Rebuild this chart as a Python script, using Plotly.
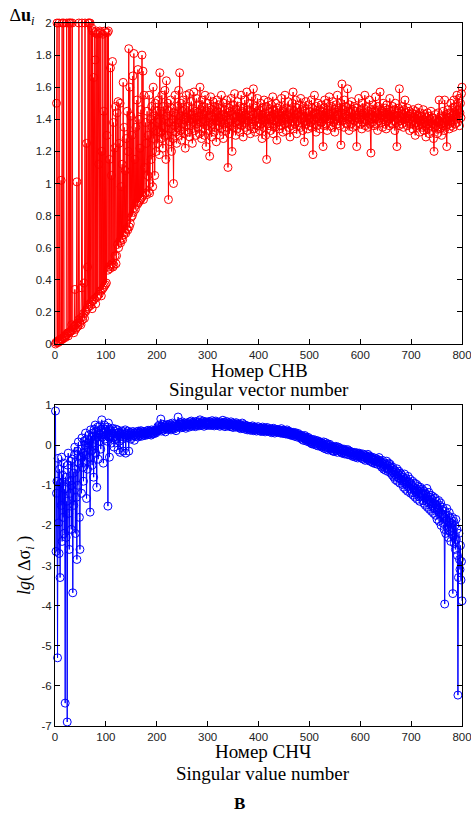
import plotly.graph_objects as go

# ---------------- data ----------------
idx = list(range(1, 801))

du = [
 0.00,0.01,1.50,2.00,0.01,0.02,0.01,2.00,0.02,0.03,0.02,1.02,0.03,2.00,0.03,0.04,2.00,0.04,0.05,0.04,
 0.05,0.06,2.00,0.06,0.07,0.05,2.00,0.07,2.00,0.08,2.00,0.08,0.12,2.00,0.09,0.10,0.07,0.11,0.34,0.09,
 0.12,0.10,1.01,0.13,0.11,0.15,2.00,0.14,0.13,0.16,0.12,0.35,2.00,0.15,0.17,0.19,0.38,0.16,2.00,0.20,
 0.21,1.25,0.22,0.48,2.00,0.23,2.00,0.25,2.00,0.24,0.26,1.97,0.22,1.95,0.27,1.66,0.28,1.94,1.77,0.25,
 1.95,0.29,1.93,0.30,1.94,1.12,0.31,1.95,0.33,1.94,0.30,1.20,0.34,1.93,0.35,1.45,0.36,1.95,0.37,1.94,
 0.38,1.30,1.94,0.46,1.95,0.48,1.15,0.47,1.72,0.49,1.05,0.50,1.76,0.48,1.38,0.49,1.22,0.55,1.48,0.50,
 0.55,1.44,0.62,1.51,0.60,1.25,0.64,1.50,0.63,0.98,0.66,1.12,0.65,1.63,0.68,1.35,0.70,1.08,0.69,1.28,
 0.72,1.45,0.71,1.20,1.84,0.73,1.60,0.75,1.42,0.79,1.30,0.80,1.67,0.82,1.81,0.85,1.15,0.84,1.35,0.88,
 1.52,0.87,1.71,0.88,1.40,0.89,1.22,0.90,1.46,0.91,1.80,0.92,1.70,0.90,1.55,1.10,0.94,1.38,1.25,0.93,
 1.45,1.05,1.30,0.95,1.55,0.94,1.00,1.40,1.15,1.48,1.35,0.98,1.60,1.28,1.42,1.05,1.50,1.33,1.20,1.45,
 1.38,1.25,1.52,1.40,1.18,1.69,1.32,1.45,1.28,1.55,1.36,1.22,1.48,1.40,1.30,1.58,1.35,1.15,1.64,1.42,
 1.30,1.50,0.90,1.38,1.45,1.26,1.52,1.34,1.20,1.47,1.40,1.28,1.00,1.44,1.36,1.55,1.32,1.42,1.25,1.48,
 1.38,1.35,1.58,1.30,1.69,1.42,1.33,1.50,1.27,1.45,1.37,1.52,1.40,1.31,1.46,1.22,1.41,1.55,1.36,1.44,
 1.32,1.48,1.39,1.56,1.29,1.43,1.36,1.51,1.40,1.25,1.47,1.38,1.57,1.33,1.45,1.41,1.30,1.53,1.37,1.44,
 1.35,1.49,1.42,1.31,1.60,1.38,1.46,1.28,1.52,1.40,1.34,1.48,1.43,1.30,1.55,1.39,1.23,1.45,1.36,1.50,
 1.41,1.33,1.47,1.17,1.38,1.54,1.42,1.29,1.46,1.37,1.51,1.40,1.32,1.48,1.35,1.44,1.26,1.52,1.39,1.45,
 1.36,1.49,1.41,1.30,1.47,1.38,1.55,1.34,1.43,1.40,1.28,1.50,1.37,1.46,1.33,1.42,1.52,1.35,1.44,1.10,
 1.38,1.47,1.31,1.45,1.40,1.53,1.36,1.20,1.43,1.49,1.35,1.41,1.56,1.38,1.30,1.46,1.42,1.34,1.51,1.39,
 1.44,1.37,1.48,1.32,1.41,1.55,1.36,1.45,1.40,1.29,1.47,1.38,1.52,1.35,1.43,1.41,1.57,1.33,1.46,1.39,
 1.42,1.36,1.50,1.31,1.45,1.40,1.54,1.37,1.43,1.59,1.34,1.47,1.39,1.32,1.48,1.41,1.36,1.53,1.44,1.38,
 1.40,1.46,1.33,1.50,1.37,1.43,1.28,1.47,1.41,1.35,1.52,1.39,1.44,1.30,1.48,1.15,1.42,1.37,1.51,1.40,
 1.36,1.45,1.40,1.33,1.49,1.42,1.37,1.54,1.31,1.46,1.39,1.43,1.35,1.50,1.41,1.27,1.47,1.38,1.44,1.40,
 1.34,1.48,1.42,1.36,1.53,1.39,1.45,1.32,1.46,1.41,1.37,1.55,1.40,1.33,1.47,1.43,1.38,1.51,1.35,1.44,
 1.40,1.29,1.46,1.42,1.36,1.50,1.39,1.57,1.34,1.45,1.41,1.37,1.52,1.43,1.31,1.47,1.39,1.44,1.36,1.49,
 1.42,1.38,1.53,1.35,1.46,1.40,1.33,1.48,1.41,1.26,1.45,1.39,1.51,1.37,1.44,1.42,1.34,1.49,1.40,1.36,
 1.45,1.41,1.38,1.52,1.35,1.47,1.18,1.43,1.40,1.55,1.37,1.44,1.32,1.48,1.41,1.36,1.50,1.43,1.39,1.46,
 1.34,1.42,1.49,1.38,1.45,1.40,1.23,1.47,1.36,1.52,1.41,1.44,1.37,1.50,1.33,1.46,1.42,1.39,1.54,1.40,
 1.43,1.36,1.48,1.41,1.35,1.51,1.44,1.38,1.46,1.32,1.42,1.49,1.40,1.37,1.55,1.43,1.39,1.47,1.41,1.36,
 1.50,1.24,1.44,1.62,1.39,1.46,1.41,1.35,1.52,1.43,1.38,1.48,1.42,1.37,1.59,1.45,1.40,1.33,1.49,1.41,
 1.44,1.37,1.51,1.40,1.46,1.35,1.42,1.48,1.39,1.45,1.41,1.36,1.23,1.47,1.43,1.38,1.53,1.40,1.44,1.37,
 1.46,1.41,1.34,1.50,1.43,1.38,1.47,1.40,1.55,1.36,1.44,1.42,1.39,1.48,1.35,1.45,1.41,1.52,1.37,1.43,
 1.19,1.46,1.40,1.38,1.49,1.42,1.36,1.45,1.41,1.54,1.37,1.44,1.40,1.33,1.48,1.43,1.39,1.46,1.57,1.41,
 1.38,1.45,1.42,1.35,1.50,1.40,1.44,1.37,1.47,1.41,1.34,1.49,1.43,1.39,1.46,1.40,1.36,1.53,1.42,1.38,
 1.45,1.41,1.37,1.48,1.43,1.39,1.46,1.33,1.50,1.42,1.38,1.23,1.44,1.40,1.47,1.36,1.59,1.42,1.39,1.45,
 1.41,1.37,1.48,1.43,1.35,1.46,1.40,1.52,1.38,1.44,1.41,1.36,1.47,1.42,1.39,1.45,1.33,1.40,1.43,1.37,
 1.44,1.39,1.34,1.46,1.41,1.37,1.43,1.30,1.45,1.38,1.42,1.35,1.40,1.47,1.36,1.41,1.32,1.44,1.39,1.37,
 1.42,1.35,1.40,1.46,1.33,1.38,1.43,1.36,1.29,1.41,1.37,1.44,1.34,1.39,1.42,1.31,1.40,1.36,1.45,1.38,
 1.33,1.41,1.37,1.28,1.20,1.39,1.35,1.43,1.36,1.40,1.31,1.38,1.44,1.35,1.52,1.39,1.34,1.42,1.37,1.30,
 1.41,1.36,1.45,1.38,1.33,1.52,1.40,1.35,1.43,1.23,1.39,1.46,1.37,1.41,1.34,1.44,1.38,1.50,1.36,1.42,
 1.39,1.47,1.35,1.52,1.41,1.37,1.48,1.43,1.40,1.55,1.38,1.46,1.42,1.53,1.36,1.44,1.50,1.41,1.56,1.60,
]

lg_ds = [
 0.85,-2.65,-1.20,-0.90,-5.30,-0.33,-1.94,-2.70,-0.60,-3.30,-0.95,-1.50,-0.30,-2.40,-0.75,-1.80,-0.45,-2.20,-1.10,-6.43,
 -0.80,-2.30,-1.40,-6.90,-0.50,-0.20,-1.70,-2.60,-0.90,-1.20,-0.40,-2.10,-1.00,-0.35,-3.68,-0.70,-1.50,-0.25,-0.05,-2.20,
 -0.60,-1.30,-2.85,-0.15,-1.00,0.08,-0.45,-1.80,-2.60,-0.30,-0.10,-1.20,0.18,-0.55,-0.20,-0.90,0.10,-0.40,0.00,0.30,
 -0.25,-1.33,0.15,-0.60,0.05,0.25,-0.30,0.10,-1.67,0.38,-0.15,0.20,-0.50,0.30,0.05,-0.80,0.40,0.15,0.50,-0.20,
 0.35,-1.05,0.20,0.45,-0.35,0.30,0.10,0.48,0.25,-0.10,0.40,0.63,0.20,0.35,-0.45,0.30,0.50,0.15,0.40,0.25,
 0.35,0.10,0.45,-1.52,0.55,0.20,-0.30,0.40,0.25,0.35,0.05,0.30,0.42,0.18,0.28,-0.05,0.35,0.22,0.40,0.15,
 0.30,0.20,0.38,-0.12,0.25,0.32,0.10,-0.18,0.30,0.22,0.35,0.15,0.28,-0.15,0.33,0.20,0.26,0.38,-0.20,0.24,
 0.30,0.18,0.35,0.25,-0.15,0.28,0.22,0.32,0.15,0.30,0.26,0.20,0.34,0.24,0.29,0.12,0.31,0.27,0.22,0.33,
 0.25,0.30,0.20,0.35,0.28,0.23,0.32,0.26,0.36,0.22,0.30,0.27,0.34,0.25,0.31,0.29,0.24,0.33,0.28,0.35,
 0.30,0.26,0.37,0.29,0.33,0.27,0.35,0.31,0.25,0.38,0.32,0.28,0.36,0.30,0.34,0.29,0.37,0.33,0.31,0.36,
 0.40,0.46,0.36,0.44,0.50,0.38,0.43,0.65,0.35,0.47,0.41,0.52,0.37,0.45,0.40,0.49,0.33,0.46,0.42,0.51,
 0.44,0.39,0.50,0.46,0.41,0.53,0.45,0.38,0.49,0.43,0.55,0.42,0.47,0.40,0.51,0.44,0.48,0.36,0.52,0.46,
 0.49,0.70,0.45,0.53,0.47,0.56,0.43,0.51,0.48,0.58,0.44,0.52,0.50,0.46,0.55,0.49,0.42,0.54,0.51,0.47,
 0.56,0.50,0.53,0.45,0.58,0.52,0.49,0.60,0.47,0.54,0.51,0.57,0.48,0.55,0.52,0.46,0.59,0.53,0.50,0.56,
 0.51,0.58,0.48,0.54,0.63,0.52,0.56,0.49,0.55,0.51,0.60,0.53,0.47,0.57,0.54,0.50,0.58,0.52,0.55,0.49,
 0.56,0.52,0.59,0.50,0.54,0.57,0.49,0.55,0.61,0.51,0.53,0.58,0.48,0.56,0.52,0.60,0.50,0.55,0.53,0.57,
 0.50,0.56,0.53,0.47,0.58,0.51,0.55,0.49,0.54,0.62,0.50,0.57,0.52,0.46,0.55,0.53,0.59,0.48,0.54,0.51,
 0.56,0.49,0.53,0.46,0.52,0.58,0.47,0.51,0.55,0.44,0.50,0.54,0.48,0.52,0.45,0.56,0.49,0.53,0.47,0.51,
 0.48,0.43,0.52,0.46,0.41,0.50,0.45,0.55,0.42,0.47,0.44,0.51,0.40,0.46,0.49,0.43,0.48,0.38,0.45,0.42,
 0.47,0.40,0.44,0.37,0.46,0.42,0.39,0.48,0.41,0.36,0.44,0.40,0.45,0.38,0.43,0.35,0.42,0.39,0.46,0.37,
 0.41,0.36,0.43,0.39,0.34,0.42,0.38,0.45,0.35,0.40,0.37,0.43,0.33,0.39,0.41,0.36,0.44,0.38,0.35,0.40,
 0.37,0.33,0.41,0.36,0.39,0.31,0.38,0.35,0.42,0.34,0.37,0.30,0.40,0.36,0.33,0.39,0.35,0.38,0.32,0.36,
 0.34,0.38,0.30,0.35,0.41,0.31,0.36,0.29,0.33,0.37,0.30,0.34,0.28,0.35,0.32,0.38,0.27,0.33,0.30,0.34,
 0.31,0.26,0.33,0.28,0.24,0.30,0.27,0.32,0.25,0.29,0.22,0.28,0.31,0.24,0.27,0.20,0.26,0.29,0.23,0.25,
 0.22,0.18,0.25,0.20,0.15,0.23,0.19,0.12,0.21,0.17,0.24,0.14,0.18,0.10,0.20,0.15,0.12,0.19,0.08,0.14,
 0.12,0.06,0.15,0.09,0.03,0.11,0.07,0.14,0.02,0.10,0.05,0.12,0.00,0.08,0.04,0.11,-0.02,0.06,0.09,0.01,
 0.05,-0.03,0.07,0.01,-0.05,0.04,-0.02,0.08,-0.08,0.02,-0.04,0.06,-0.10,0.00,-0.06,0.03,-0.12,-0.01,-0.07,0.02,
 -0.05,-0.10,-0.02,-0.13,-0.07,-0.15,-0.04,-0.09,-0.16,-0.06,-0.11,-0.03,-0.14,-0.08,-0.18,-0.10,-0.05,-0.12,-0.07,-0.15,
 -0.11,-0.17,-0.09,-0.20,-0.14,-0.12,-0.19,-0.10,-0.22,-0.16,-0.13,-0.21,-0.15,-0.18,-0.11,-0.24,-0.17,-0.14,-0.20,-0.16,
 -0.19,-0.25,-0.17,-0.23,-0.28,-0.20,-0.26,-0.18,-0.24,-0.30,-0.21,-0.27,-0.19,-0.25,-0.32,-0.22,-0.28,-0.20,-0.26,-0.23,
 -0.30,-0.25,-0.33,-0.27,-0.22,-0.35,-0.29,-0.24,-0.31,-0.38,-0.26,-0.32,-0.28,-0.36,-0.23,-0.30,-0.34,-0.27,-0.40,-0.29,
 -0.33,-0.41,-0.30,-0.37,-0.44,-0.35,-0.39,-0.32,-0.46,-0.36,-0.42,-0.34,-0.40,-0.48,-0.37,-0.43,-0.31,-0.45,-0.39,-0.50,
 -0.42,-0.55,-0.46,-0.38,-0.52,-0.60,-0.44,-0.56,-0.49,-0.63,-0.47,-0.40,-0.58,-0.51,-0.66,-0.45,-0.61,-0.53,-0.48,-0.70,
 -0.57,-0.64,-0.75,-0.55,-0.68,-0.80,-0.62,-0.73,-0.86,-0.66,-0.78,-0.59,-0.90,-0.71,-0.82,-0.65,-0.76,-0.95,-0.70,-0.84,
 -0.74,-0.88,-0.98,-0.80,-1.05,-0.86,-0.72,-0.95,-1.10,-0.83,-0.99,-0.90,-1.15,-0.78,-1.02,-0.92,-1.08,-0.85,-1.20,-0.96,
 -1.00,-1.18,-0.90,-1.25,-1.06,-1.12,-0.95,-1.30,-1.08,-1.20,-0.98,-1.35,-1.14,-1.03,-1.28,-1.10,-1.40,-1.05,-1.22,-1.15,
 -1.25,-1.10,-1.38,-1.20,-1.45,-1.15,-1.32,-1.50,-1.22,-1.40,-1.08,-1.55,-1.28,-1.36,-1.18,-1.60,-1.30,-1.42,-1.25,-1.65,
 -1.35,-1.52,-1.28,-1.70,-1.45,-1.58,-1.32,-1.75,-1.48,-1.40,-1.85,-1.55,-1.62,-1.38,-1.90,-1.50,-1.68,-1.44,-2.00,-1.60,
 -1.72,-1.55,-1.95,-1.80,-2.10,-3.96,-1.65,-2.20,-1.85,-1.58,-2.05,-1.75,-2.30,-1.90,-1.68,-2.15,-1.82,-2.40,-1.95,-2.05,
 -1.80,-3.70,-2.25,-1.90,-2.45,-2.00,-2.60,-1.85,-2.35,-2.10,-2.75,-6.23,-3.30,-2.20,-2.85,-3.10,-2.50,-3.36,-2.90,-3.88,
]

if len(du) != 800 or len(lg_ds) != 800:
    raise ValueError(f"lengths {len(du)} {len(lg_ds)}")

x_ticks = [0, 100, 200, 300, 400, 500, 600, 700, 800]
x_ticklabels = ["0", "100", "200", "300", "400", "500", "600", "700", "800"]
top_yticks = [0, 0.2, 0.4, 0.6, 0.8, 1, 1.2, 1.4, 1.6, 1.8, 2]
top_yticklabels = ["0", "0.2", "0.4", "0.6", "0.8", "1", "1.2", "1.4", "1.6", "1.8", "2"]
bot_yticks = [-7, -6, -5, -4, -3, -2, -1, 0, 1]
bot_yticklabels = ["-7", "-6", "-5", "-4", "-3", "-2", "-1", "0", "1"]

# ---------------- figure ----------------
W, H = 471, 814

def fx(px):
    return px / W

def fy(py):
    return 1 - py / H

fig = go.Figure()

fig.add_trace(go.Scatter(
    x=idx, y=du, mode="lines+markers", xaxis="x", yaxis="y",
    line=dict(color="#ff0000", width=1),
    marker=dict(symbol="circle-open", size=8, color="#ff0000", line=dict(width=1)),
    cliponaxis=False, showlegend=False, hoverinfo="skip"))

fig.add_trace(go.Scatter(
    x=idx, y=lg_ds, mode="lines+markers", xaxis="x2", yaxis="y2",
    line=dict(color="#0000ff", width=1),
    marker=dict(symbol="circle-open", size=8, color="#0000ff", line=dict(width=1)),
    cliponaxis=False, showlegend=False, hoverinfo="skip"))

tickfont = dict(family="Liberation Sans, Arial, sans-serif", size=11.5, color="#222222")
xdom = [fx(55), fx(462)]

def axis_common():
    return dict(showline=True, linecolor="#000000", linewidth=1, mirror="ticks",
                ticks="inside", ticklen=5, tickcolor="#000000", tickwidth=1,
                showgrid=False, zeroline=False, tickfont=tickfont, fixedrange=True,
                automargin=False, ticklabeloverflow="allow")

fig.update_layout(
    width=W, height=H, autosize=False,
    margin=dict(l=0, r=0, t=0, b=0, pad=0),
    paper_bgcolor="white", plot_bgcolor="white",
    xaxis=dict(domain=xdom, range=[0, 800], tickvals=x_ticks, ticktext=x_ticklabels,
               anchor="y", **axis_common()),
    yaxis=dict(domain=[fy(344), fy(23)], range=[0, 2], tickvals=top_yticks,
               ticktext=top_yticklabels, anchor="x", **axis_common()),
    xaxis2=dict(domain=xdom, range=[0, 800], tickvals=x_ticks, ticktext=x_ticklabels,
                anchor="y2", **axis_common()),
    yaxis2=dict(domain=[fy(726), fy(405)], range=[-7, 1], tickvals=bot_yticks,
                ticktext=bot_yticklabels, anchor="x2", **axis_common()),
    hovermode=False,
)

serif = "Liberation Serif, Times New Roman, serif"

def ann(text, px, py, size, xanchor="center", textangle=0):
    fig.add_annotation(text=text, x=fx(px), y=fy(py), xref="paper", yref="paper",
                       xanchor=xanchor, yanchor="middle", showarrow=False,
                       textangle=textangle, font=dict(family=serif, size=size, color="black"))

ann("∆<b>u</b><sub><i>i</i></sub>", 8, 17, 18, xanchor="left")
ann("Номер СНВ", 259, 370, 19)
ann("Singular vector number", 259, 389, 19)
ann("<i>lg</i>( ∆σ<sub><i>i</i></sub> )", 25, 566, 18, textangle=-90)
ann("Номер СНЧ", 263, 751, 19)
ann("Singular value number", 263, 773, 19)
ann("<b>В</b>", 239, 803, 17)

# remove the default 8px page margin so the figure sits at the window's top-left
fig.write_html("out.html",
               config={"displayModeBar": False, "staticPlot": True},
               post_script="document.body.style.margin='0px';"
                           "document.body.style.overflow='hidden';")
